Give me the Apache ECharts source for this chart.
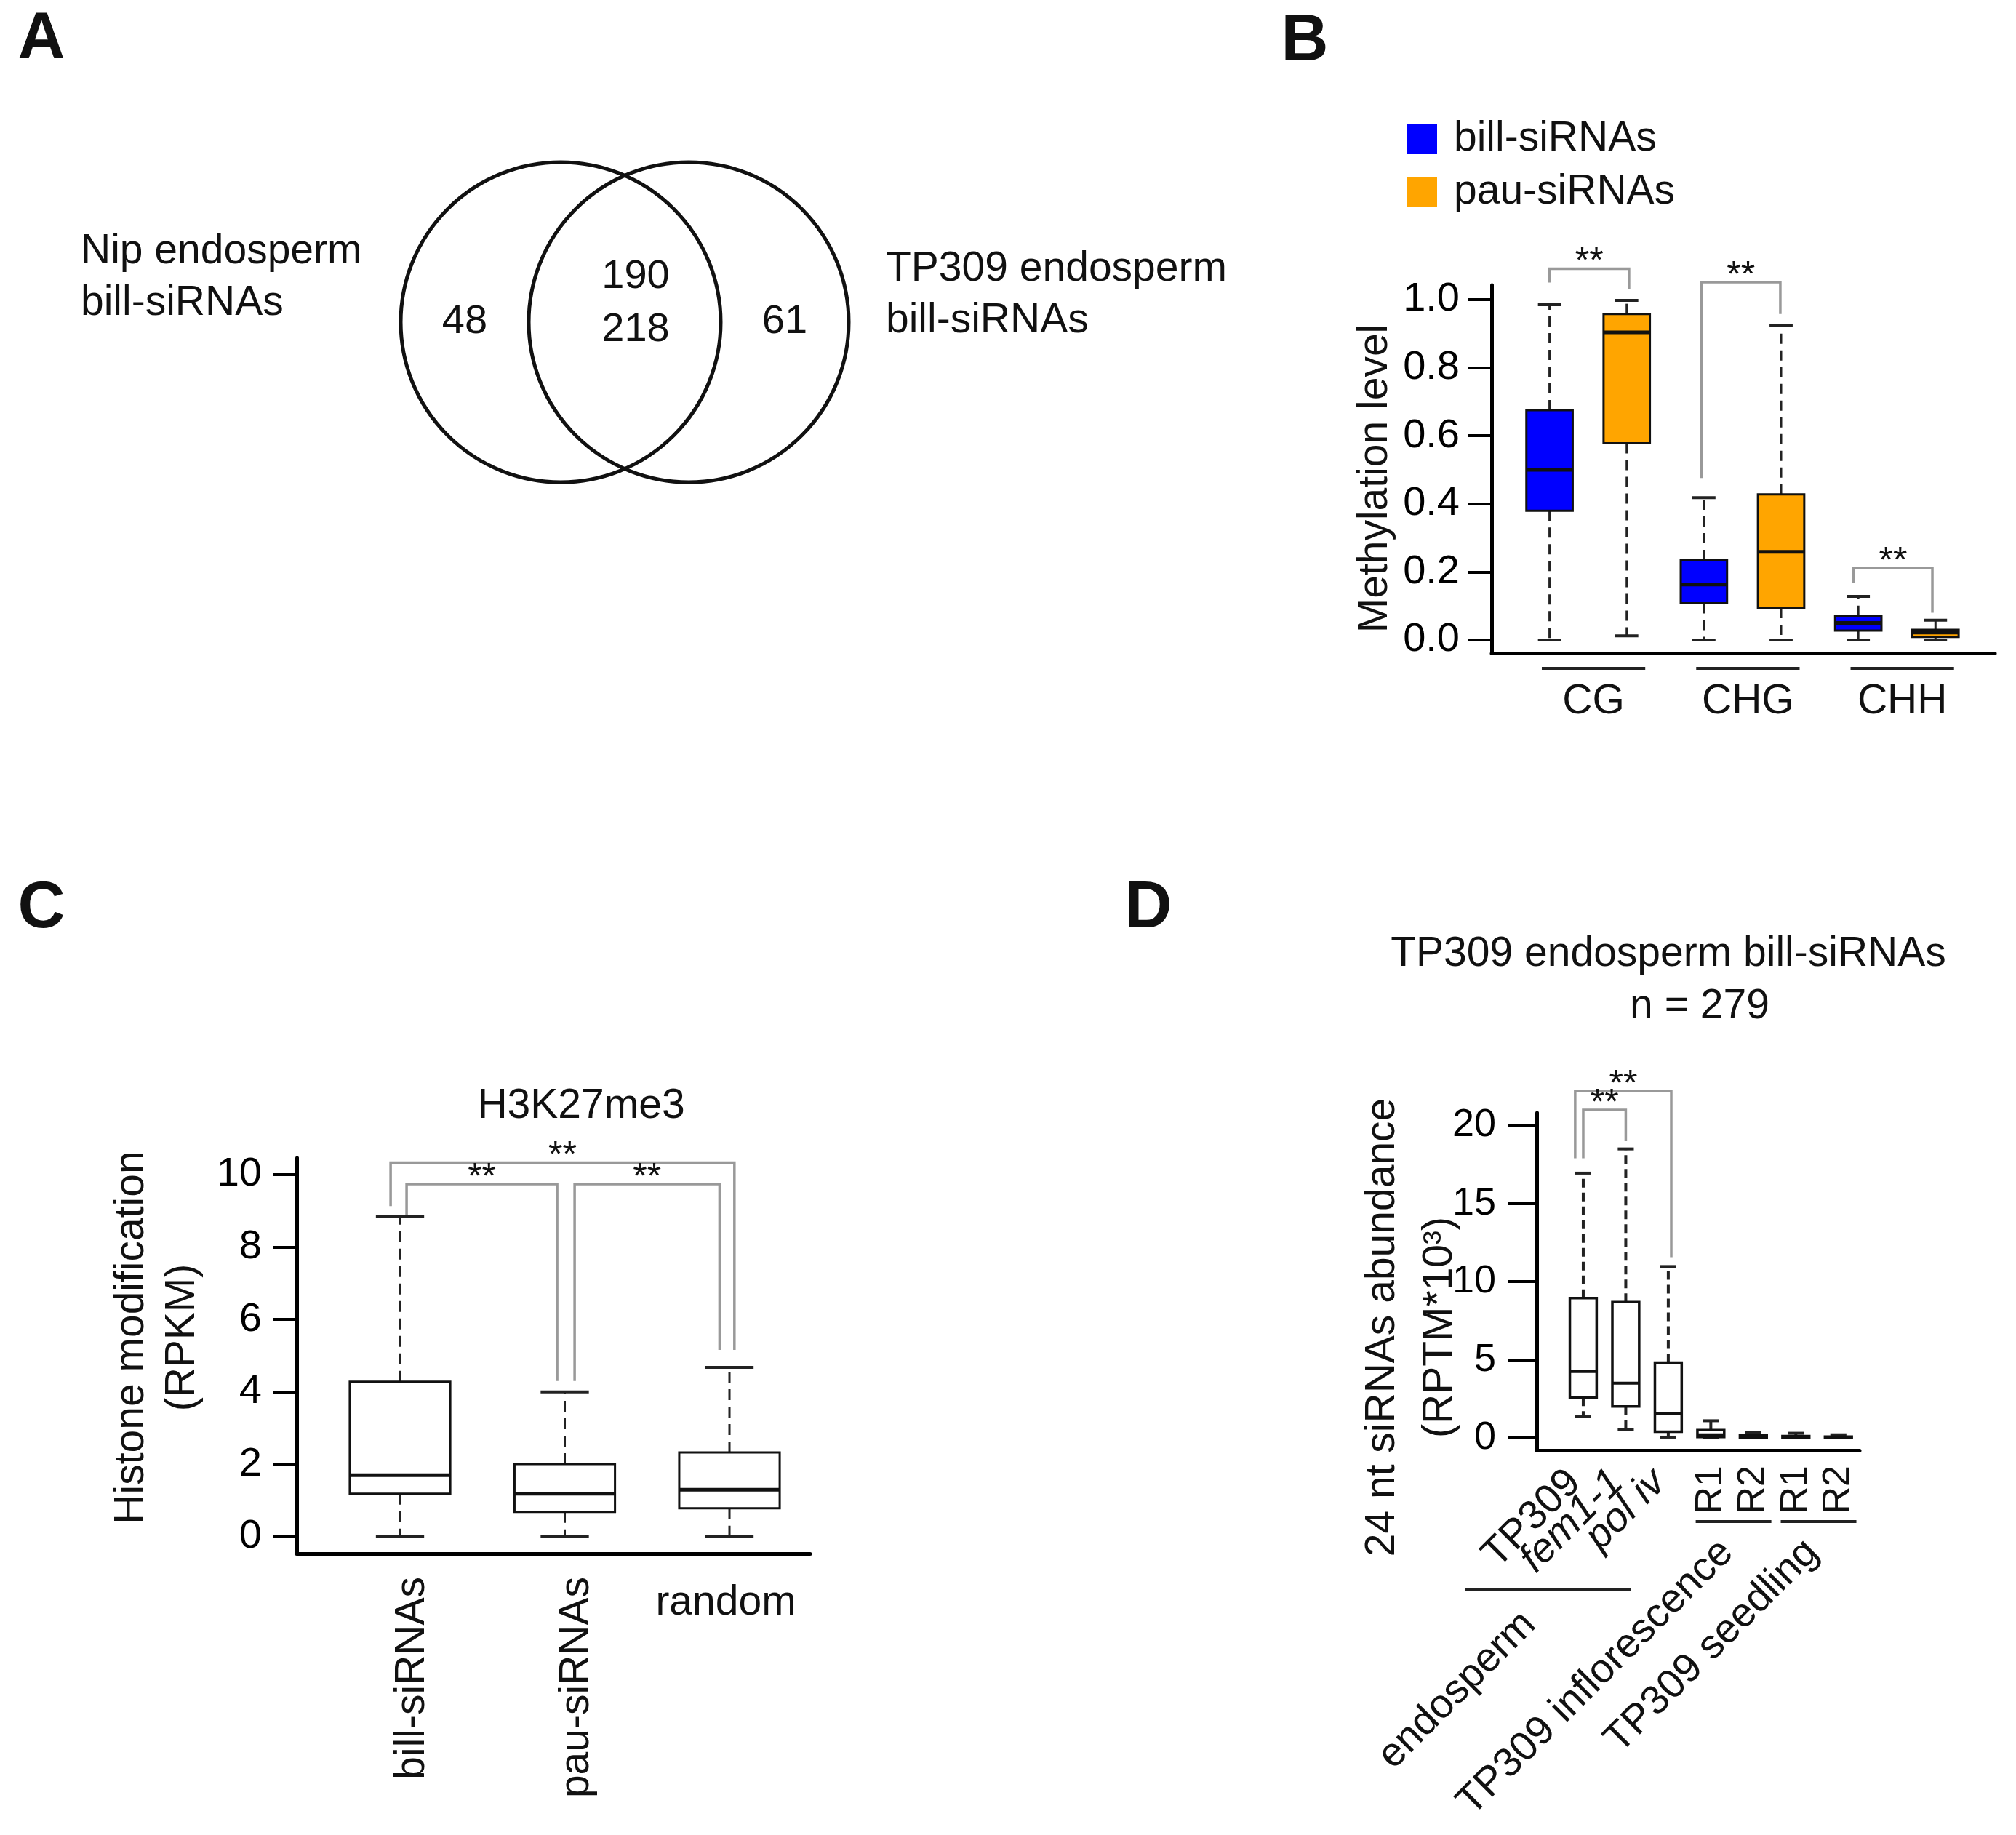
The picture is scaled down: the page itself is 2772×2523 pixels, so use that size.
<!DOCTYPE html>
<html><head><meta charset="utf-8">
<script src="https://cdn.jsdelivr.net/npm/echarts@6/dist/echarts.min.js"></script>
<style>html,body{margin:0;padding:0;background:#fff}#c{width:2772px;height:2523px}</style>
</head><body><div id="c"></div>
<script>
// ================= DATA =================
// Panel A – Venn diagram
const vennSetNames = ['Nip endosperm\nbill-siRNAs', 'TP309 endosperm\nbill-siRNAs'];
const vennOnlyCounts = [48, 61];
const vennSharedCounts = [190, 218];

// Panel B – methylation level boxplots: [lower whisker, Q1, median, Q3, upper whisker]
const bContexts = ['CG', 'CHG', 'CHH'];
const bSeriesNames = ['bill-siRNAs', 'pau-siRNAs'];
const bBill = [[0.0, 0.38, 0.50, 0.675, 0.985], [0.0, 0.108, 0.163, 0.235, 0.418], [0.0, 0.028, 0.05, 0.071, 0.128]];
const bPau  = [[0.012, 0.578, 0.904, 0.958, 0.998], [0.0, 0.094, 0.259, 0.428, 0.924], [0.0, 0.009, 0.022, 0.03, 0.058]];
const bTicks = [0, 0.2, 0.4, 0.6, 0.8, 1.0];
// significance brackets: [x start, x end, top, left end, right end]
const bBrackets = [[1.0, 2.03, 1.091, 1.05, 1.03], [2.97, 3.99, 1.051, 0.476, 0.958], [4.94, 5.96, 0.212, 0.167, 0.08]];

// Panel C – H3K27me3
const cTitle = 'H3K27me3';
const cCategories = ['bill-siRNAs', 'pau-siRNAs', 'random'];
const cStats = [[0, 1.19, 1.70, 4.28, 8.85], [0, 0.69, 1.19, 2.01, 4.0], [0, 0.79, 1.30, 2.33, 4.68]];
const cTicks = [0, 2, 4, 6, 8, 10];
const cBrackets = [[0.943, 3.03, 10.33, 9.13, 5.16], [1.04, 1.954, 9.74, 8.88, 4.3], [2.06, 2.94, 9.74, 4.3, 5.16]];

// Panel D – 24 nt siRNA abundance
const dTitle = 'TP309 endosperm bill-siRNAs';
const dN = 279;
const dCategories = ['TP309', 'fem1-1', 'pol iv', 'R1', 'R2', 'R1', 'R2'];
const dStats = [[1.35, 2.6, 4.25, 8.95, 16.95], [0.55, 2.02, 3.5, 8.7, 18.5], [0.05, 0.4, 1.57, 4.82, 10.97],
                [0, 0.06, 0.2, 0.5, 1.1], [0, 0.03, 0.08, 0.15, 0.35], [0, 0.02, 0.06, 0.12, 0.3], [0, 0.01, 0.04, 0.08, 0.2]];
const dGroupNames = ['endosperm', 'TP309 inflorescence', 'TP309 seedling'];
const dGroupMembers = [[1, 2, 3], [4, 5], [6, 7]];
const dTicks = [0, 5, 10, 15, 20];
const dBrackets = [[0.81, 3.07, 22.2, 17.9, 11.57], [1.0, 2.0, 21.0, 17.9, 19.0]];

// ================= STYLE / LAYOUT =================
const FONT = '"Liberation Sans", Arial, Helvetica, sans-serif';
const INK = '#111';
const BLUE = '#0000FF', ORANGE = '#FFA500', GREY = '#999';
const cLabelRotate = [90, 90, 0];
const dLabelRotate = [45, 45, 45, 90, 90, 90, 90];
const dLabelItalic = [false, true, true, false, false, false, false];

function txt(text, size, extra) {
  return Object.assign({text: text, fontSize: size, fontFamily: FONT, fill: INK, align: 'center', verticalAlign: 'middle'}, extra || {});
}

function boxItem(o) {
  return function (params, api) {
    const x = api.value(0);
    const p = [1, 2, 3, 4, 5].map(k => api.coord([x, api.value(k)]));
    const cx = p[0][0];
    const unit = api.size([1, 0])[0];
    const bw = unit * o.boxFrac, cw = bw * o.capFrac;
    const fill = o.fill || api.visual('color');
    const ws = {stroke: '#222', lineWidth: o.whiskerWidth, lineDash: o.dash};
    const cs = {stroke: '#222', lineWidth: o.capWidth};
    return {type: 'group', children: [
      {type: 'line', shape: {x1: cx, y1: p[3][1], x2: cx, y2: p[4][1]}, style: ws},
      {type: 'line', shape: {x1: cx, y1: p[1][1], x2: cx, y2: p[0][1]}, style: ws},
      {type: 'line', shape: {x1: cx - cw / 2, y1: p[4][1], x2: cx + cw / 2, y2: p[4][1]}, style: cs},
      {type: 'line', shape: {x1: cx - cw / 2, y1: p[0][1], x2: cx + cw / 2, y2: p[0][1]}, style: cs},
      {type: 'rect', shape: {x: cx - bw / 2, y: p[3][1], width: bw, height: Math.max(p[1][1] - p[3][1], 1)},
        style: {fill: fill, stroke: INK, lineWidth: o.borderWidth}},
      {type: 'line', shape: {x1: cx - bw / 2, y1: p[2][1], x2: cx + bw / 2, y2: p[2][1]}, style: {stroke: INK, lineWidth: o.medianWidth}}
    ]};
  };
}

function bracketItem(params, api) {
  const x1 = api.value(0), x2 = api.value(1), top = api.value(2);
  const a = api.coord([x1, api.value(3)]), b = api.coord([x1, top]);
  const c = api.coord([x2, top]), d = api.coord([x2, api.value(4)]);
  return {type: 'group', children: [
    {type: 'polyline', shape: {points: [a, b, c, d]}, style: {stroke: GREY, lineWidth: 3.5, fill: null}},
    {type: 'text', x: (b[0] + c[0]) / 2, y: b[1] - 8, style: txt('**', 50)}
  ]};
}

function boxData(stats, xs) { return stats.map((s, i) => [xs[i]].concat(s)); }

function yAxisCfg(gi, min, max, ticks, fmt, tickLen, margin, size) {
  return {type: 'value', gridIndex: gi, min: min, max: max,
    axisLine: {show: true, onZero: false, lineStyle: {color: '#000', width: 5}},
    axisTick: {show: true, customValues: ticks, length: tickLen, lineStyle: {color: '#000', width: 4}},
    axisLabel: {show: true, customValues: ticks, formatter: fmt, margin: margin, fontSize: size, fontFamily: FONT, color: '#000'},
    splitLine: {show: false}};
}
function xAxisCfg(gi, min, max, show) {
  return {type: 'value', gridIndex: gi, min: min, max: max,
    axisLine: {show: show, onZero: false, lineStyle: {color: '#000', width: 5}},
    axisTick: {show: false}, axisLabel: {show: false}, splitLine: {show: false}};
}

const option = {
  animation: false,
  backgroundColor: '#fff',
  textStyle: {fontFamily: FONT},
  grid: [
    {left: 529, top: 113, width: 660, height: 660},
    {left: 2051, top: 392, width: 692, height: 506},
    {left: 408, top: 1592, width: 706, height: 544},
    {left: 2113, top: 1530, width: 444, height: 464}
  ],
  xAxis: [
    {type: 'value', gridIndex: 0, min: -1.5, max: 1.5, show: false},
    xAxisCfg(1, 0.25, 6.77, true),
    xAxisCfg(2, 0.373, 3.49, true),
    xAxisCfg(3, -0.094, 7.5, true)
  ],
  yAxis: [
    {type: 'value', gridIndex: 0, min: -1.5, max: 1.5, show: false},
    yAxisCfg(1, -0.0385, 1.0427, bTicks, v => v.toFixed(1), 32, 44, 56),
    yAxisCfg(2, -0.462, 10.462, cTicks, v => String(v), 33, 48, 56),
    yAxisCfg(3, -0.79, 20.81, dTicks, v => String(v), 40, 56, 54)
  ],
  legend: {
    data: bSeriesNames, orient: 'vertical', left: 1934, top: 163, padding: 0,
    itemWidth: 42, itemHeight: 41, itemGap: 16, icon: 'rect', selectedMode: false,
    itemStyle: {borderWidth: 0},
    textStyle: {fontSize: 57, fontFamily: FONT, color: INK, padding: [0, 0, 0, 18]}
  },
  series: [
    // Venn circles + exclusive counts
    {type: 'custom', xAxisIndex: 0, yAxisIndex: 0, silent: true,
      data: vennOnlyCounts.map((n, i) => [i === 0 ? -0.4 : 0.4, 0]),
      renderItem: (params, api) => {
        const i = params.dataIndex, cxv = api.value(0);
        const c = api.coord([cxv, 0]);
        const r = api.size([1, 0])[0];
        const t = api.coord([cxv + (cxv < 0 ? -0.6 : 0.6), 0]);
        return {type: 'group', children: [
          {type: 'circle', shape: {cx: c[0], cy: c[1], r: r}, style: {fill: 'none', stroke: INK, lineWidth: 5}},
          {type: 'text', x: t[0], y: t[1], style: txt(String(vennOnlyCounts[i]), 56)}
        ]};
      }},
    // Venn shared counts
    {type: 'custom', xAxisIndex: 0, yAxisIndex: 0, silent: true,
      data: vennSharedCounts.map(() => [0, 0]),
      renderItem: (params, api) => {
        const c = api.coord([0, 0]);
        return {type: 'text', x: c[0] + 15, y: c[1] - 62 + params.dataIndex * 73,
          style: txt(String(vennSharedCounts[params.dataIndex]), 56)};
      }},
    // Panel B boxes
    {type: 'custom', name: bSeriesNames[0], xAxisIndex: 1, yAxisIndex: 1, silent: true, itemStyle: {color: BLUE},
      data: boxData(bBill, [1, 3, 5]),
      renderItem: boxItem({boxFrac: 0.6, capFrac: 0.5, borderWidth: 3, medianWidth: 5, whiskerWidth: 3, capWidth: 4, dash: [14, 9]})},
    {type: 'custom', name: bSeriesNames[1], xAxisIndex: 1, yAxisIndex: 1, silent: true, itemStyle: {color: ORANGE},
      data: boxData(bPau, [2, 4, 6]),
      renderItem: boxItem({boxFrac: 0.6, capFrac: 0.5, borderWidth: 3, medianWidth: 5, whiskerWidth: 3, capWidth: 4, dash: [14, 9]})},
    {type: 'custom', xAxisIndex: 1, yAxisIndex: 1, silent: true, data: bBrackets, renderItem: bracketItem},
    // Panel B context labels
    {type: 'custom', xAxisIndex: 1, yAxisIndex: 1, silent: true,
      data: bContexts.map((n, i) => [2 * i + 1.5, 0]),
      renderItem: (params, api) => {
        const unit = api.size([1, 0])[0];
        const c = api.coord([api.value(0), 0]);
        const bottom = params.coordSys.y + params.coordSys.height;
        const cx = c[0] + 0.07 * unit, half = 0.67 * unit;
        return {type: 'group', children: [
          {type: 'line', shape: {x1: cx - half, y1: bottom + 21, x2: cx + half, y2: bottom + 21}, style: {stroke: '#222', lineWidth: 4}},
          {type: 'text', x: cx, y: bottom + 67, style: txt(bContexts[params.dataIndex], 57)}
        ]};
      }},
    // Panel C
    {type: 'custom', xAxisIndex: 2, yAxisIndex: 2, silent: true,
      data: boxData(cStats, [1, 2, 3]),
      renderItem: boxItem({fill: '#fff', boxFrac: 0.61, capFrac: 0.48, borderWidth: 3, medianWidth: 5, whiskerWidth: 3, capWidth: 4, dash: [15, 9]})},
    {type: 'custom', xAxisIndex: 2, yAxisIndex: 2, silent: true, data: cBrackets, renderItem: bracketItem},
    {type: 'custom', xAxisIndex: 2, yAxisIndex: 2, silent: true,
      data: cCategories.map((n, i) => [i + 1, 0]),
      renderItem: (params, api) => {
        const i = params.dataIndex;
        const c = api.coord([api.value(0), 0]);
        const bottom = params.coordSys.y + params.coordSys.height;
        if (cLabelRotate[i]) {
          return {type: 'text', x: c[0] + 17, y: bottom + 32, rotation: cLabelRotate[i] * Math.PI / 180,
            style: txt(cCategories[i], 57, {align: 'right'})};
        }
        return {type: 'text', x: c[0] - 5, y: bottom + 68, style: txt(cCategories[i], 57)};
      }},
    // Panel D
    {type: 'custom', xAxisIndex: 3, yAxisIndex: 3, silent: true,
      data: boxData(dStats, [1, 2, 3, 4, 5, 6, 7]),
      renderItem: boxItem({fill: '#fff', boxFrac: 0.63, capFrac: 0.6, borderWidth: 3.5, medianWidth: 4, whiskerWidth: 4, capWidth: 4, dash: [12, 7]})},
    {type: 'custom', xAxisIndex: 3, yAxisIndex: 3, silent: true, data: dBrackets, renderItem: bracketItem},
    {type: 'custom', xAxisIndex: 3, yAxisIndex: 3, silent: true,
      data: dCategories.map((n, i) => [i + 1, 0]),
      renderItem: (params, api) => {
        const i = params.dataIndex;
        const c = api.coord([api.value(0), 0]);
        const bottom = params.coordSys.y + params.coordSys.height;
        const rot = dLabelRotate[i];
        const diag = rot === 45;
        return {type: 'text', x: c[0] - (diag ? 12 : 0), y: bottom + (diag ? 36 : 21), rotation: rot * Math.PI / 180,
          style: txt(dCategories[i], diag ? 56 : 52, {align: 'right', fontStyle: dLabelItalic[i] ? 'italic' : 'normal'})};
      }},
    {type: 'custom', xAxisIndex: 3, yAxisIndex: 3, silent: true,
      data: dGroupMembers.map(m => [(m[0] + m[m.length - 1]) / 2, 0]),
      renderItem: (params, api) => {
        const i = params.dataIndex, m = dGroupMembers[i];
        const bottom = params.coordSys.y + params.coordSys.height;
        const first = api.coord([m[0], 0])[0], last = api.coord([m[m.length - 1], 0])[0];
        let x1, x2, ly, lx, lyy;
        if (i === 0) { x1 = first - 162; x2 = last - 51; ly = bottom + 192; lx = (x1 + x2) / 2 - 26; lyy = ly + 39; }
        else { const mid = (first + last) / 2; x1 = mid - 50; x2 = mid + 54; ly = bottom + 98; lx = mid - 7; lyy = ly + 34; }
        return {type: 'group', children: [
          {type: 'line', shape: {x1: x1, y1: ly, x2: x2, y2: ly}, style: {stroke: '#222', lineWidth: 4}},
          {type: 'text', x: lx, y: lyy, rotation: Math.PI / 4, style: txt(dGroupNames[i], 56, {align: 'right'})}
        ]};
      }}
  ],
  graphic: [
    {type: 'text', x: 57, y: 55, style: txt('A', 90, {fontWeight: 'bold'})},
    {type: 'text', x: 1794, y: 58, style: txt('B', 90, {fontWeight: 'bold'})},
    {type: 'text', x: 57, y: 1250, style: txt('C', 90, {fontWeight: 'bold'})},
    {type: 'text', x: 1579, y: 1250, style: txt('D', 90, {fontWeight: 'bold'})},
    {type: 'text', x: 111, y: 382, style: txt(vennSetNames[0], 57, {align: 'left', lineHeight: 71})},
    {type: 'text', x: 1218, y: 406, style: txt(vennSetNames[1], 57, {align: 'left', lineHeight: 71})},
    {type: 'text', x: 1891, y: 658, rotation: Math.PI / 2, style: txt('Methylation level', 57)},
    {type: 'text', x: 799, y: 1521, style: txt(cTitle, 57)},
    {type: 'text', x: 216, y: 1839, rotation: Math.PI / 2, style: txt('Histone modification\n(RPKM)', 57, {lineHeight: 70})},
    {type: 'text', x: 2294, y: 1312, style: txt(dTitle, 57)},
    {type: 'text', x: 2337, y: 1384, style: txt('n = ' + dN, 57)},
    {type: 'text', x: 1941, y: 1825, rotation: Math.PI / 2, style: txt('24 nt siRNAs abundance\n(RPTM*10\u00B3)', 57, {lineHeight: 79})}
  ]
};

const chart = echarts.init(document.getElementById('c'), null, {renderer: 'canvas', width: 2772, height: 2523});
chart.setOption(option);
</script></body></html>
